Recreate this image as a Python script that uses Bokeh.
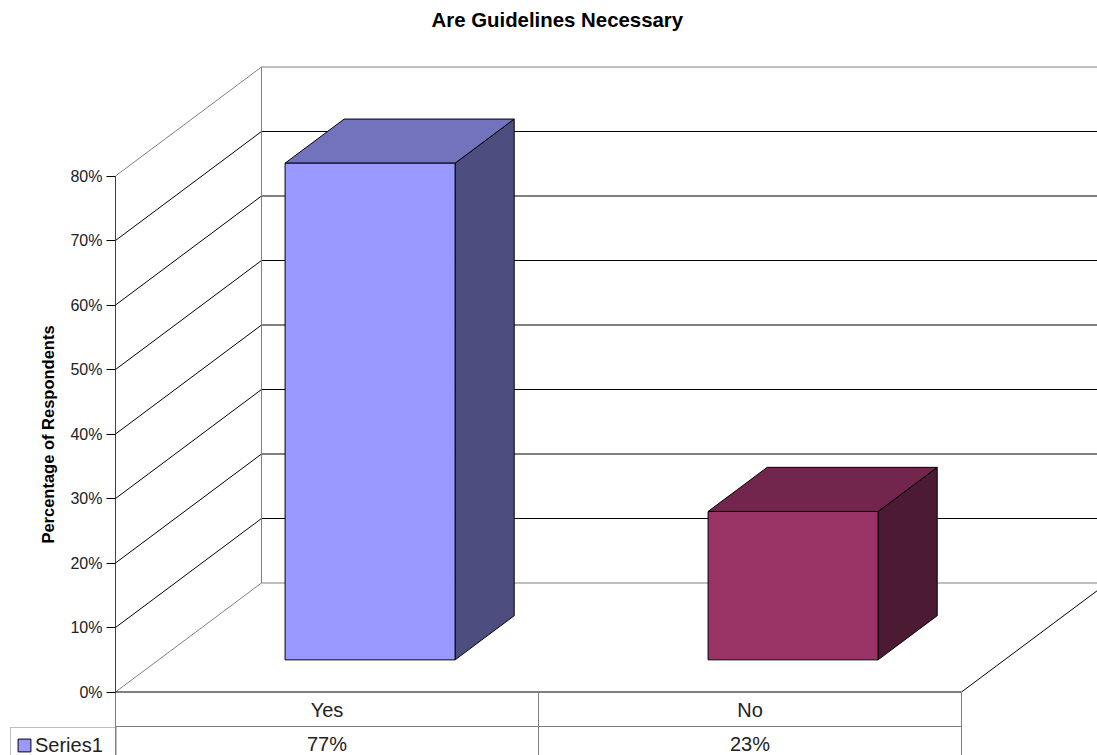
from bokeh.core.properties import value
from bokeh.embed import file_html
from bokeh.models import FixedTicker, Legend, LegendItem, LinearAxis, PrintfTickFormatter, Range1d, Title
from bokeh.plotting import figure
from bokeh.resources import INLINE

# Survey results
CATEGORIES = ["Yes", "No"]
VALUES = [77, 23]
SERIES_NAME = "Series1"
TICKS = [0, 10, 20, 30, 40, 50, 60, 70, 80]

FRONT = ["#9999FF", "#993366"]
TOP = ["#7373BD", "#72264D"]
SIDE = ["#4D4D80", "#4D1A33"]
WALL = "#808080"
TEXT = "#222222"
FONT = "Liberation Sans"

# Layout of the page and of the oblique projection
W, H = 1097, 755
PLOT_LEFT, FRAME_TOP = 115, 36
ZERO_ROW = 691.5
PX_PER_PCT = 6.45
PX_PER_CAT = 423
DEPTH_DX = 146 / PX_PER_CAT
DEPTH_DY = 109 / PX_PER_PCT
BAR_WIDTH = 170 / PX_PER_CAT
BAR_D0, BAR_D1 = 0.295, 0.70
YMAX_AXIS = TICKS[-1]
BOTTOM = (ZERO_ROW - H) / PX_PER_PCT
ROW_1 = (ZERO_ROW - 726) / PX_PER_PCT
ROW_TEXT_1 = (ZERO_ROW - 709.5) / PX_PER_PCT
ROW_TEXT_2 = (ZERO_ROW - 743.5) / PX_PER_PCT


def proj(x, y, d=0.0):
    """Map category x, percentage y and depth d (0 front, 1 back) onto the plane."""
    return x + d * DEPTH_DX, y + d * DEPTH_DY


p = figure(
    width=W, height=H, output_backend="svg", toolbar_location=None,
    x_range=Range1d(-PLOT_LEFT / PX_PER_CAT, (W - PLOT_LEFT) / PX_PER_CAT),
    y_range=Range1d(BOTTOM, (ZERO_ROW - FRAME_TOP) / PX_PER_PCT),
    x_axis_type=None, y_axis_type=None,
    min_border_left=0, min_border_top=FRAME_TOP,
    min_border_right=0, min_border_bottom=0,
    outline_line_color=None, background_fill_color="white", border_fill_color="white",
)
p.grid.visible = False

title = Title(text="Are Guidelines Necessary", align="left", offset=431,
              text_font=FONT, text_font_size="20.4px", text_font_style="bold",
              text_color="black", standoff=11)
p.add_layout(title, "above")

axis = LinearAxis(
    ticker=FixedTicker(ticks=TICKS), formatter=PrintfTickFormatter(format="%d%%"),
    bounds=(0, YMAX_AXIS), fixed_location=0,
    axis_label="Percentage of Respondents",
    axis_label_text_font=FONT, axis_label_text_font_size="16.5px",
    axis_label_text_font_style="bold", axis_label_text_color="black",
    axis_label_standoff=10,
    major_label_text_font=FONT, major_label_text_font_size="16px",
    major_label_text_color=TEXT, major_label_standoff=4,
    major_tick_in=0, major_tick_out=9, minor_tick_line_color=None,
    axis_line_color="#404040", major_tick_line_color="black",
)
p.add_layout(axis, "left")

# Back wall and side wall gridlines
for t in TICKS:
    color = WALL if t in (0, YMAX_AXIS) else "black"
    x0, y0 = proj(0, t)
    x1, y1 = proj(0, t, 1)
    x2, _ = proj(2, t, 1)
    p.line([x0, x1, x2], [y0, y1, y1], line_color=color, line_width=1)

bx, by0 = proj(0, 0, 1)
_, by1 = proj(0, YMAX_AXIS, 1)
p.line([bx, bx], [by0, by1], line_color=WALL, line_width=1)

# Floor edges
fx, fy = proj(2, 0, 1)
p.line([0, 2, fx], [0, 0, fy], line_color="black", line_width=1)

# Data table below the floor
p.line([0, 0], [0, BOTTOM], line_color=WALL, line_width=1)
for cx in (1, 2):
    p.line([cx, cx], [0, BOTTOM], line_color=WALL, line_width=1)
p.line([0, 2], [ROW_1, ROW_1], line_color=WALL, line_width=1)

table_x = [i + 0.5 for i in range(len(CATEGORIES))]
p.text(table_x, [ROW_TEXT_1] * 2, text=CATEGORIES, text_align="center", text_baseline="middle",
       text_font=value(FONT), text_font_size="20px", text_color=TEXT)
p.text(table_x, [ROW_TEXT_2] * 2, text=[f"{v}%" for v in VALUES], text_align="center",
       text_baseline="middle", text_font=value(FONT), text_font_size="20px", text_color=TEXT)

# Boxes for each answer, built from the percentages through the projection
front_renderers = []
for i, v in enumerate(VALUES):
    xa = i + 0.5 - BAR_WIDTH / 2
    xb = i + 0.5 + BAR_WIDTH / 2
    corners_side = [proj(xb, 0, BAR_D0), proj(xb, 0, BAR_D1), proj(xb, v, BAR_D1), proj(xb, v, BAR_D0)]
    corners_top = [proj(xa, v, BAR_D0), proj(xb, v, BAR_D0), proj(xb, v, BAR_D1), proj(xa, v, BAR_D1)]
    corners_front = [proj(xa, 0, BAR_D0), proj(xb, 0, BAR_D0), proj(xb, v, BAR_D0), proj(xa, v, BAR_D0)]
    for corners, fill in ((corners_side, SIDE[i]), (corners_top, TOP[i])):
        p.patch([c[0] for c in corners], [c[1] for c in corners], fill_color=fill,
                line_color="black", line_width=1)
    r = p.patch([c[0] for c in corners_front], [c[1] for c in corners_front], fill_color=FRONT[i],
                line_color="black", line_width=1)
    front_renderers.append(r)

legend = Legend(
    items=[LegendItem(label=SERIES_NAME, renderers=[front_renderers[0]])],
    location=(10, -8), orientation="vertical",
    border_line_color=WALL, border_line_width=1, background_fill_alpha=0,
    label_text_font=FONT, label_text_font_size="20px", label_text_color=TEXT,
    glyph_width=16, glyph_height=16, padding=5, margin=0, label_standoff=3, spacing=0,
    label_width=76, label_height=24,
)
p.add_layout(legend, "center")

open("out.html", "w").write(file_html(p, INLINE))
